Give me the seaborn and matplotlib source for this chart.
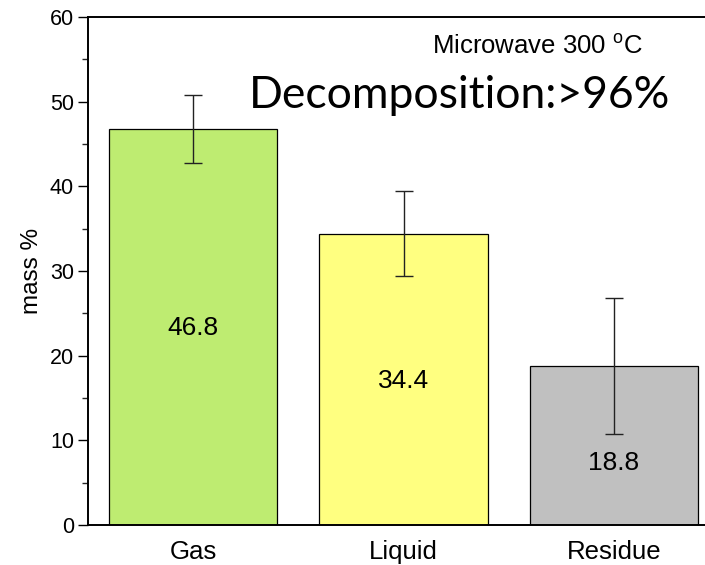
import matplotlib
matplotlib.use("Agg")
import matplotlib.pyplot as plt
import seaborn as sns
import pandas as pd
from matplotlib.ticker import MultipleLocator

categories = ["Gas", "Liquid", "Residue"]
values = [46.8, 34.4, 18.8]
errors = [4.0, 5.0, 8.0]
value_labels = ["46.8", "34.4", "18.8"]
bar_colors = ["#BEEC71", "#FFFF80", "#C0C0C0"]
label_y = [23.3, 17.0, 7.3]

sns.set_theme(style="ticks")
plt.rcParams["font.family"] = ["Liberation Sans", "DejaVu Sans"]

W, H = 705, 565
fig = plt.figure(figsize=(W / 100, H / 100), dpi=100)
ax = fig.add_axes([88 / W, (H - 525) / H, (719 - 88) / W, (525 - 17) / H])

df = pd.DataFrame({"cat": categories, "val": values})
sns.barplot(data=df, x="cat", y="val", hue="cat", palette=bar_colors,
            legend=False, width=0.8, edgecolor="black", linewidth=0.9,
            saturation=1, ax=ax, zorder=2)
ax.errorbar(range(len(categories)), values, yerr=errors, fmt="none",
            ecolor="#222222", elinewidth=1.0, capsize=6.5, capthick=1.0, zorder=3)

for i, (t, yy) in enumerate(zip(value_labels, label_y)):
    ax.text(i, yy, t, ha="center", va="center", fontsize=19, color="black", zorder=4)

ax.set_xlim(-0.5, 2.5)
ax.set_ylim(0, 60)
ax.yaxis.set_major_locator(MultipleLocator(10))
ax.yaxis.set_minor_locator(MultipleLocator(5))
ax.tick_params(axis="y", which="major", direction="out", length=7, width=1.0,
               labelsize=15.5, pad=3, colors="black")
ax.tick_params(axis="y", which="minor", direction="out", length=4, width=1.0)
ax.tick_params(axis="x", length=0, labelsize=18.5, pad=11, colors="black")
ax.set_xlabel("")
ax.set_ylabel("mass %", fontsize=17.5, labelpad=5, color="black")
for s in ["left", "bottom", "top", "right"]:
    ax.spines[s].set_linewidth(1.4)
    ax.spines[s].set_color("black")
ax.set_facecolor("white")

fig.text(537 / W, 1 - 46 / H, "Microwave 300 $^{\\mathregular{o}}$C",
         ha="center", va="center", fontsize=18.5, color="black")
fig.text(460 / W, 1 - 95 / H, "Decomposition:>96%", ha="center", va="center",
         fontsize=32, color="black", family=["Lato", "DejaVu Sans"])

fig.savefig("out.png", dpi=100)
